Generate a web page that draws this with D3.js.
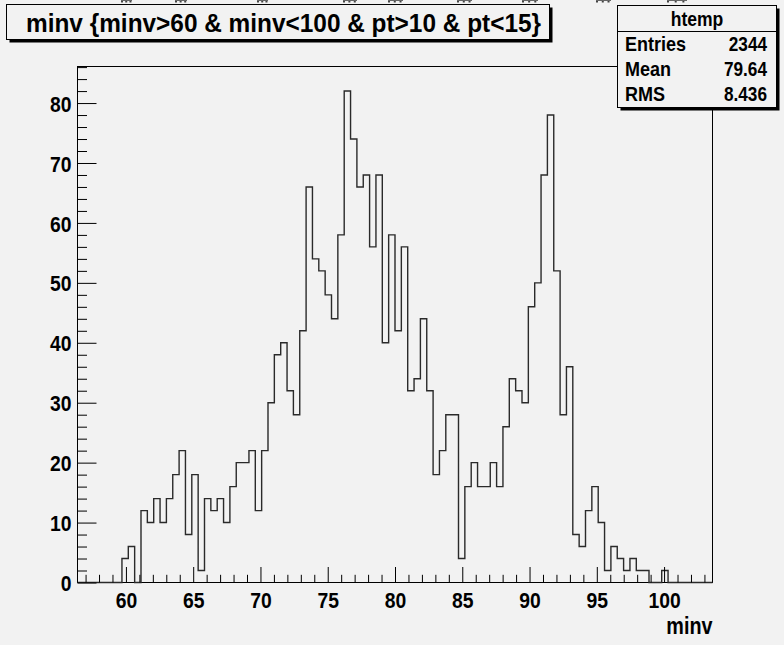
<!DOCTYPE html>
<html><head><meta charset="utf-8">
<script src="https://cdn.jsdelivr.net/npm/d3@7"></script>
<style>
html,body{margin:0;padding:0;background:#f2f2f2;}
svg{display:block;}
text{font-family:"Liberation Sans",Arial,Helvetica,sans-serif;font-weight:bold;fill:#000;}
</style>
</head><body><svg id="c" width="784" height="645"></svg>
<script>
// ---- data ----
const xMin = 56.4, xMax = 103.6, nBins = 100;
const counts = [
  0,0,0,0,0,0,0,4,6,0,
  12,10,14,10,14,18,22,8,18,2,
  14,12,14,10,16,20,20,22,12,22,
  30,38,40,32,28,42,66,54,52,48,
  44,58,82,74,66,68,56,68,40,58,
  42,56,32,34,44,32,18,22,28,28,
  4,16,20,16,16,20,16,26,34,32,
  30,46,50,68,78,52,28,36,8,6,
  12,16,10,2,6,4,2,4,2,2,
  0,0,2,0,0,0,0,0,0,0
];
const xMajorTicks = [60,65,70,75,80,85,90,95,100];
const xMinorTicks = d3.range(57,104).filter(v => v % 5 !== 0);
const yMajorTicks = [0,10,20,30,40,50,60,70,80];
const yMinorTicks = d3.range(2,87,2).filter(v => v % 10 !== 0);
const yMax = 86.1;
const titleText = "minv {minv>60 & minv<100 & pt>10 & pt<15}";
const statsName = "htemp";
const statsLabels = ["Entries","Mean","RMS"];
const statsValues = ["2344","79.64","8.436"];
const xTitle = "minv";
// clipped text remnants along the top edge (x ranges)
const topFragments = [[121,132],[175,187],[257,268],[343,357],[388,403],[457,472],[522,538],[596,611],[667,687]];

// ---- layout ----
const svg = d3.select("#c");
const F = {l:77.5, r:712.5, t:66.5, b:582.5};
const x = d3.scaleLinear().domain([xMin, xMax]).range([F.l, F.r]);
const y = d3.scaleLinear().domain([0, yMax]).range([F.b, F.t]);
const binW = (xMax - xMin) / nBins;
const SX = 0.86; // horizontal squeeze of all text

function squeeze(sel, s){
  sel.each(function(){
    const t = d3.select(this);
    const tx = +t.attr("x") || 0, ty = +t.attr("y") || 0;
    t.attr("x",0).attr("y",0).attr("transform",`translate(${tx},${ty}) scale(${s},1)`);
  });
}

svg.append("rect").attr("width",784).attr("height",645).attr("fill","#f2f2f2");

// remnants: a few short stems each
topFragments.forEach(f => {
  const n = 3, w = (f[1]-f[0]);
  d3.range(n).forEach(k => {
    svg.append("rect").attr("x", f[0] + k*w/(n-0.4)).attr("y",0)
      .attr("width",2).attr("height",2.5).attr("fill","#444");
  });
  svg.append("rect").attr("x",f[0]).attr("y",0).attr("width",w).attr("height",1).attr("fill","#666");
});

// frame
svg.append("rect").attr("x",F.l).attr("y",F.t).attr("width",F.r-F.l).attr("height",F.b-F.t)
  .attr("fill","none").attr("stroke","#000").attr("stroke-width",1);

// histogram outline
let p = d3.path();
p.moveTo(x(xMin), y(0));
counts.forEach((c,i) => {
  p.lineTo(x(xMin + i*binW), y(c));
  p.lineTo(x(xMin + (i+1)*binW), y(c));
});
p.lineTo(x(xMax), y(0));
svg.append("path").attr("d", p.toString()).attr("fill","none")
  .attr("stroke","#2a2a2a").attr("stroke-width",1.4);

// x axis
const gx = svg.append("g").attr("transform",`translate(0,${F.b})`);
gx.call(d3.axisBottom(x).tickValues(xMajorTicks).tickSize(-15.5).tickFormat(d3.format("d")));
const gx2 = svg.append("g").attr("transform",`translate(0,${F.b})`);
gx2.call(d3.axisBottom(x).tickValues(xMinorTicks).tickSize(-7.7).tickFormat(""));
// y axis
const gy = svg.append("g").attr("transform",`translate(${F.l},0)`);
gy.call(d3.axisLeft(y).tickValues(yMajorTicks).tickSize(-19).tickPadding(6).tickFormat(d3.format("d")));
const gy2 = svg.append("g").attr("transform",`translate(${F.l},0)`);
gy2.call(d3.axisLeft(y).tickValues(yMinorTicks).tickSize(-9.5).tickFormat(""));

svg.selectAll(".domain").remove();
svg.selectAll(".tick line").attr("stroke","#000").attr("stroke-width",1);
svg.selectAll(".tick text").attr("font-size",22.5).attr("font-family",null).attr("fill","#000");
gx.selectAll(".tick text").attr("dy",null).attr("y",25);
gy.selectAll(".tick text").attr("dy","0.36em");
squeeze(gx.selectAll(".tick text"), SX);
squeeze(gy.selectAll(".tick text"), SX);

// x title
const xt = svg.append("text").attr("x",F.r).attr("y",634).attr("text-anchor","end")
  .attr("font-size",23).text(xTitle);
squeeze(xt, SX);

// boxes with shadow
function box(x0,y0,w,h){
  svg.append("rect").attr("x",x0+3).attr("y",y0+3).attr("width",w).attr("height",h).attr("fill","#000");
  svg.append("rect").attr("x",x0).attr("y",y0).attr("width",w).attr("height",h)
    .attr("fill","#f2f2f2").attr("stroke","#000").attr("stroke-width",1);
}
box(6.5,4.5,543,35);
svg.append("text").attr("x",26).attr("y",31.5).attr("font-size",25.5)
  .attr("textLength",515).attr("lengthAdjust","spacingAndGlyphs").text(titleText);

// stats box
box(617.5,5.5,159,102);
svg.append("line").attr("x1",617.5).attr("x2",776.5).attr("y1",31.5).attr("y2",31.5).attr("stroke","#000");
const hs = svg.append("text").attr("x",697).attr("y",25.5).attr("text-anchor","middle").attr("font-size",19.5).text(statsName);
squeeze(hs, 0.9);
statsLabels.forEach((l,i)=>{
  const yy = 51 + i*25;
  squeeze(svg.append("text").attr("x",625).attr("y",yy).attr("font-size",20).text(l), 0.9);
  squeeze(svg.append("text").attr("x",767).attr("y",yy).attr("text-anchor","end").attr("font-size",20).text(statsValues[i]), 0.86);
});
</script>
</body></html>
